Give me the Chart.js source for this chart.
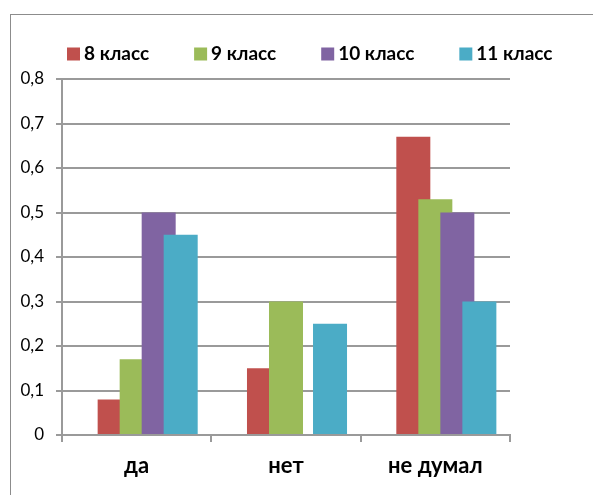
<!DOCTYPE html>
<html><head><meta charset="utf-8">
<script src="https://cdn.jsdelivr.net/npm/chart.js@4"></script>
<style>
html,body{margin:0;padding:0;background:#fff;overflow:hidden;width:593px;height:495px}
#frame{position:absolute;left:10px;top:14px;width:700px;height:600px;border-left:1px solid #8c8c8c;border-top:1px solid #8c8c8c}
#wrap{position:absolute;left:0;top:0;width:593px;height:495px}
</style></head><body>
<div id="frame"></div>
<div id="wrap"><canvas id="c" width="593" height="495"></canvas></div>
<script>
// ---- data ----
const categories = ['да', 'нет', 'не думал'];
const seriesNames = ['8 класс', '9 класс', '10 класс', '11 класс'];
const grade8  = [0.08, 0.15, 0.67];
const grade9  = [0.17, 0.30, 0.53];
const grade10 = [0.50, 0.00, 0.50];
const grade11 = [0.45, 0.25, 0.30];
const yTickValues = [0, 0.1, 0.2, 0.3, 0.4, 0.5, 0.6, 0.7, 0.8];

const seriesValues = [grade8, grade9, grade10, grade11];
const colors = ['#C0504D', '#9BBB59', '#8064A2', '#4BACC6'];

// later series drawn on top (Excel-style overlap)
const overlapPlugin = {
  id: 'overlapOrder',
  beforeDatasetsDraw(chart) {
    chart.getSortedVisibleDatasetMetas().forEach(m => m.controller.draw());
    return false;
  }
};

const legendPlugin = {
  id: 'customLegend',
  afterDraw(chart, args, o) {
    const ctx = chart.ctx;
    ctx.save();
    ctx.font = o.font;
    ctx.textBaseline = 'middle';
    ctx.textAlign = 'left';
    let x = o.x;
    chart.data.datasets.forEach(ds => {
      if (!ds.label) return;
      ctx.fillStyle = ds.backgroundColor;
      ctx.fillRect(x, o.y - o.box / 2, o.box, o.box);
      x += o.box + o.gap;
      ctx.fillStyle = '#000';
      ctx.fillText(ds.label, x, o.y);
      x += ctx.measureText(ds.label).width + o.spacing;
    });
    ctx.restore();
  }
};

const datasets = [{ label: '', data: [], backgroundColor: 'rgba(0,0,0,0)' }]
  .concat(seriesNames.map((name, i) => ({
    label: name,
    data: seriesValues[i],
    backgroundColor: colors[i],
    borderWidth: 0
  })));

new Chart(document.getElementById('c'), {
  type: 'bar',
  data: { labels: categories, datasets },
  plugins: [overlapPlugin, legendPlugin],
  options: {
    responsive: false,
    animation: false,
    devicePixelRatio: 1,
    layout: { padding: { left: 0, right: 83, top: 79, bottom: 0 } },
    datasets: { bar: { categoryPercentage: 0.737, barPercentage: 1.545 } },
    plugins: {
      legend: { display: false },
      tooltip: { enabled: false },
      customLegend: { x: 67, y: 54, box: 13, gap: 4, spacing: 45, font: 'bold 19px Lato' }
    },
    scales: {
      x: {
        offset: true,
        grid: { offset: true, drawOnChartArea: false, drawTicks: true, tickLength: 7, color: '#9a9a9a', lineWidth: 2 },
        border: { display: true, color: '#9a9a9a', width: 2 },
        ticks: { font: { family: 'Lato', size: 22, weight: 'bold' }, color: '#000', padding: 11 },
        afterFit: s => { s.height = 60; }
      },
      y: {
        min: 0, max: 0.8,
        afterBuildTicks: s => { s.ticks = yTickValues.map(v => ({ value: v })); },
        ticks: {
          font: { family: 'Lato', size: 17 }, color: '#000', padding: 12,
          callback: v => v === 0 ? '0' : v.toFixed(1).replace('.', ',')
        },
        grid: { color: '#9a9a9a', lineWidth: 2, tickLength: 6 },
        border: { display: true, color: '#9a9a9a', width: 2 },
        afterFit: s => { s.width = 62; }
      }
    }
  }
});
</script>
</body></html>
